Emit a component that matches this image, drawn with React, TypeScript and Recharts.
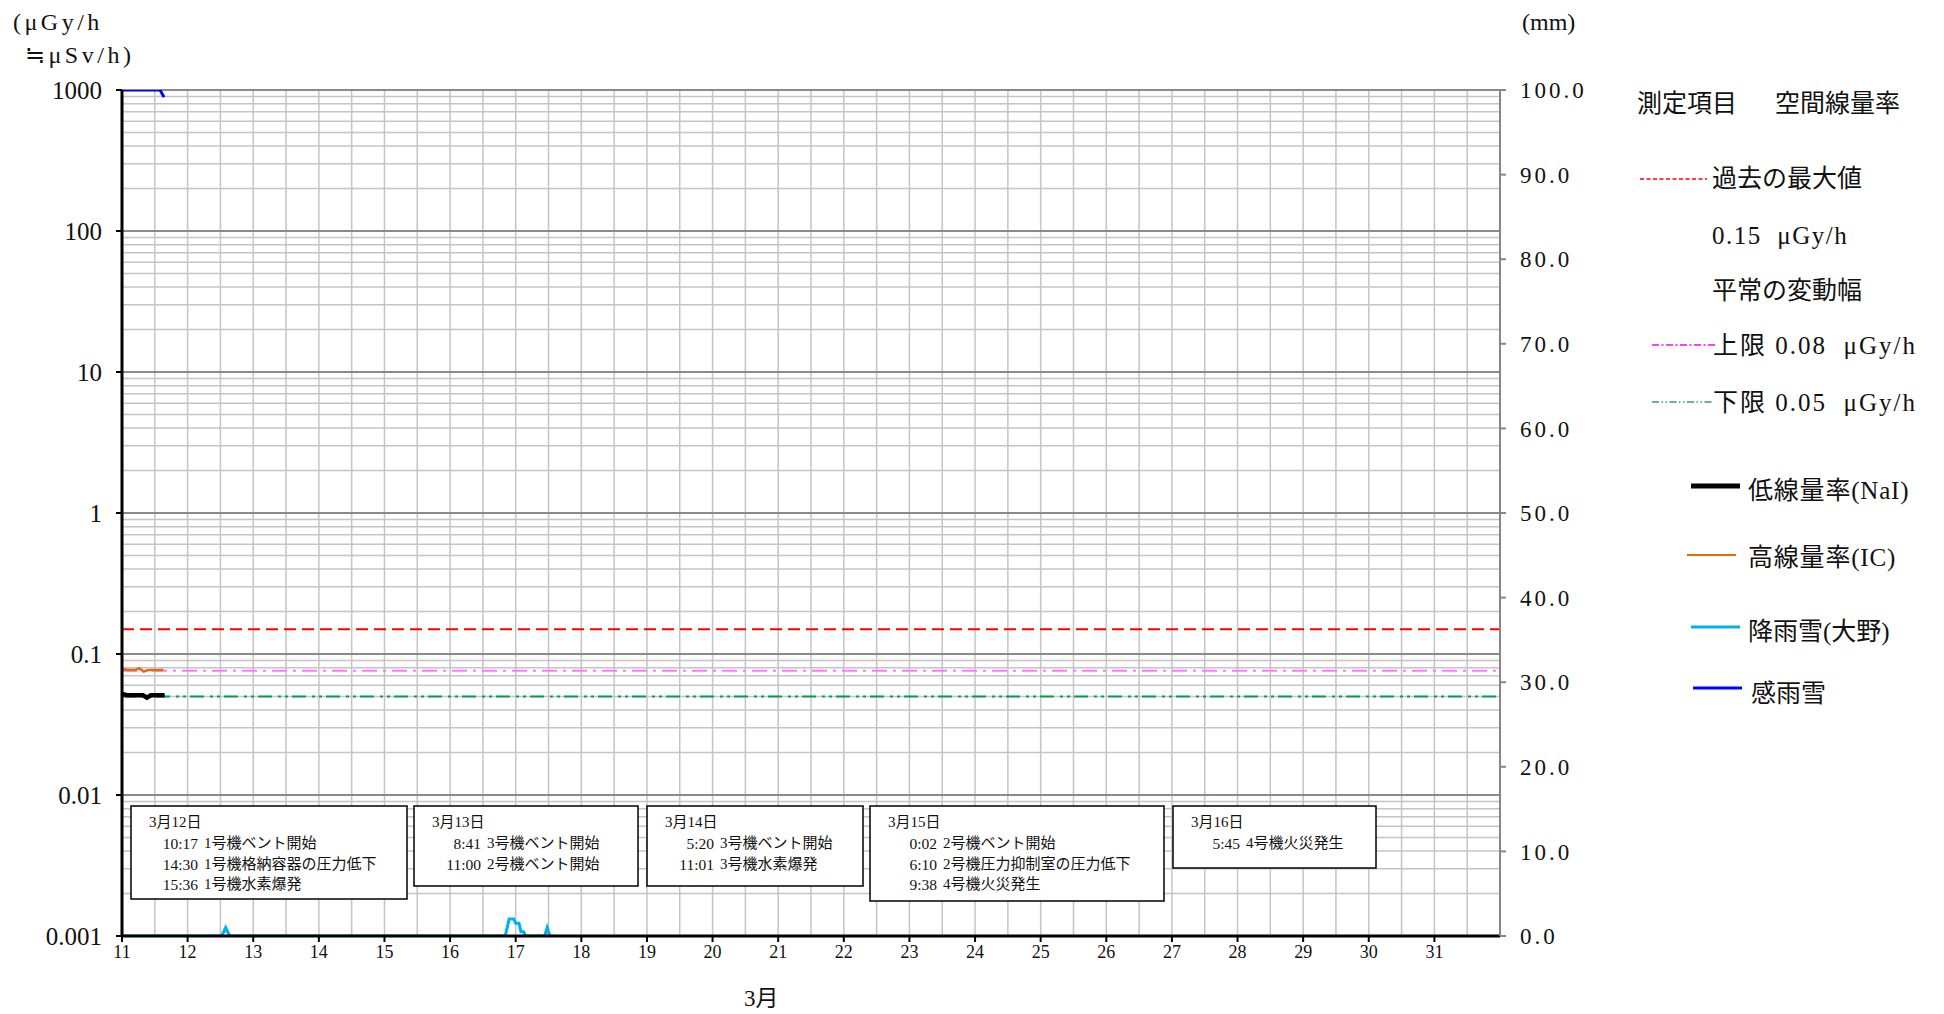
import React from 'react'
import {
  ComposedChart,
  Line,
  XAxis,
  YAxis,
  CartesianGrid,
  ReferenceLine,
} from 'recharts'

// x: day of March, left y: µGy/h (log), right y: mm
const dayTicks = [11, 12, 13, 14, 15, 16, 17, 18, 19, 20, 21, 22, 23, 24, 25, 26, 27, 28, 29, 30, 31]
const doseTicks = [0.001, 0.01, 0.1, 1, 10, 100, 1000]
const rainTicks = [0, 10, 20, 30, 40, 50, 60, 70, 80, 90, 100]

// 低線量率(NaI)
const naiTimes = [11.0, 11.08, 11.16, 11.24, 11.32, 11.38, 11.44, 11.52, 11.6, 11.65]
const naiValues = [0.052, 0.051, 0.051, 0.051, 0.051, 0.049, 0.051, 0.051, 0.051, 0.051]

// 高線量率(IC)
const icTimes = [11.0, 11.1, 11.2, 11.27, 11.33, 11.4, 11.5, 11.6, 11.63]
const icValues = [0.078, 0.077, 0.077, 0.079, 0.075, 0.077, 0.077, 0.077, 0.077]

// 降雨雪(大野) mm
const rainTimes = [11.0, 12.52, 12.58, 12.64, 16.84, 16.9, 16.97, 17.0, 17.05, 17.08, 17.12, 17.15, 17.44, 17.48, 17.52, 17.58]
const rainValues = [0, 0, 1.0, 0, 0, 2.0, 2.0, 1.5, 1.5, 0.5, 0.5, 0, 0, 1.0, 0, 0]

// 感雨雪
const senseTimes = [11.0, 11.58, 11.64]
const senseValues = [1000, 1000, 890]

const pastMax = 0.15
const normalUpper = 0.076
const normalLower = 0.05

const eventBoxes = [
  { date: '3月12日', events: [['10:17', '1号機ベント開始'], ['14:30', '1号機格納容器の圧力低下'], ['15:36', '1号機水素爆発']] },
  { date: '3月13日', events: [['8:41', '3号機ベント開始'], ['11:00', '2号機ベント開始']] },
  { date: '3月14日', events: [['5:20', '3号機ベント開始'], ['11:01', '3号機水素爆発']] },
  { date: '3月15日', events: [['0:02', '2号機ベント開始'], ['6:10', '2号機圧力抑制室の圧力低下'], ['9:38', '4号機火災発生']] },
  { date: '3月16日', events: [['5:45', '4号機火災発生']] },
]

const boxLayout = [
  { x: 131, w: 276, h: 93 },
  { x: 414, w: 224, h: 80 },
  { x: 647, w: 216, h: 80 },
  { x: 870, w: 294, h: 95 },
  { x: 1173, w: 203, h: 62 },
]

const toSeries = (ts: number[], vs: number[]) => ts.map((t, i) => ({ t, v: vs[i] }))

const decadeLines = doseTicks
const minorLines = doseTicks.slice(0, -1).flatMap((d) => [2, 3, 4, 5, 6, 7, 8, 9].map((m) => m * d))
const halfDayLines = dayTicks.flatMap((d) => [d, d + 0.5]).concat([32])

const FONT = '"Liberation Serif", "Noto Sans CJK JP", serif'

function Overlay() {
  const legendText = { fontFamily: FONT, fontSize: 25, fill: '#111' }
  return (
    <svg
      width={1944}
      height={1014}
      style={{ position: 'absolute', left: 0, top: 0, pointerEvents: 'none' }}
    >
      <text x={13} y={22} dominantBaseline="central" style={{ letterSpacing: 3.5 }} fontFamily={FONT} fontSize={24} fill="#111">
        (μGy/h
      </text>
      <text x={25} y={55} dominantBaseline="central" style={{ letterSpacing: 3.5 }} fontFamily={FONT} fontSize={24} fill="#111">
        ≒μSv/h)
      </text>
      <text x={1522} y={22} dominantBaseline="central" fontFamily={FONT} fontSize={24} fill="#111">
        (mm)
      </text>
      <text x={744} y={998} dominantBaseline="central" fontFamily={FONT} fontSize={23} fill="#111">
        3月
      </text>

      {/* legend */}
      <text x={1637} y={103} dominantBaseline="central" {...legendText}>測定項目</text>
      <text x={1775} y={103} dominantBaseline="central" {...legendText}>空間線量率</text>

      <line x1={1640} x2={1707} y1={179} y2={179} stroke="#ff0000" strokeWidth={1.5} strokeDasharray="4 2.5" />
      <text x={1712} y={178} dominantBaseline="central" {...legendText}>過去の最大値</text>
      <text x={1712} y={235} dominantBaseline="central" {...legendText} style={{ letterSpacing: 1.5, whiteSpace: 'pre' }}>
        {'0.15  μGy/h'}
      </text>
      <text x={1712} y={290} dominantBaseline="central" {...legendText}>平常の変動幅</text>

      <line x1={1652} x2={1716} y1={345} y2={345} stroke="#ff00ff" strokeWidth={1.5} strokeDasharray="7 2.5 2 2.5" />
      <text x={1713} y={345} dominantBaseline="central" {...legendText} style={{ letterSpacing: 2, whiteSpace: 'pre' }}>
        {'上限 0.08  μGy/h'}
      </text>
      <line x1={1652} x2={1713} y1={402} y2={402} stroke="#3a9a66" strokeWidth={1.5} strokeDasharray="7 2.5 1.5 2.5 1.5 2.5" />
      <text x={1713} y={402} dominantBaseline="central" {...legendText} style={{ letterSpacing: 2, whiteSpace: 'pre' }}>
        {'下限 0.05  μGy/h'}
      </text>

      <line x1={1691} x2={1740} y1={486} y2={486} stroke="#000" strokeWidth={5} />
      <text x={1748} y={490} dominantBaseline="central" {...legendText} style={{ letterSpacing: 0.8 }}>低線量率(NaI)</text>
      <line x1={1687} x2={1736} y1={555} y2={555} stroke="#e46c0a" strokeWidth={2} />
      <text x={1748} y={557} dominantBaseline="central" {...legendText} style={{ letterSpacing: 0.8 }}>高線量率(IC)</text>
      <line x1={1691} x2={1740} y1={627} y2={627} stroke="#00b0f0" strokeWidth={3} />
      <text x={1748} y={631} dominantBaseline="central" {...legendText}>降雨雪(大野)</text>
      <line x1={1693} x2={1742} y1={688} y2={688} stroke="#0000ff" strokeWidth={3} />
      <text x={1751} y={693} dominantBaseline="central" {...legendText}>感雨雪</text>

      {/* event notes */}
      {eventBoxes.map((box, i) => {
        const l = boxLayout[i]
        const top = 806
        const rowY = [top + 16, top + 37, top + 58, top + 78]
        return (
          <g key={box.date}>
            <rect x={l.x} y={top} width={l.w} height={l.h} fill="#fff" stroke="#000" strokeWidth={1.5} />
            <text x={l.x + 18} y={rowY[0]} dominantBaseline="central" fontFamily={FONT} fontSize={15} fill="#111">
              {box.date}
            </text>
            {box.events.map(([time, label], j) => (
              <g key={time}>
                <text x={l.x + 67} y={rowY[j + 1]} textAnchor="end" dominantBaseline="central" fontFamily={FONT} fontSize={15.5} fill="#111">
                  {time}
                </text>
                <text x={l.x + 73} y={rowY[j + 1]} dominantBaseline="central" fontFamily={FONT} fontSize={15} fill="#111">
                  {label}
                </text>
              </g>
            ))}
          </g>
        )
      })}
    </svg>
  )
}

export default function App() {
  return (
    <div style={{ position: 'absolute', left: 0, top: 0, width: 1944, height: 1014, background: '#fff' }}>
      <ComposedChart
        width={1944}
        height={1014}
        margin={{ top: 90, right: 344, bottom: 0, left: 0 }}
      >
        <CartesianGrid vertical={false} horizontalValues={minorLines} stroke="#c4c4c4" strokeWidth={1.5} />
        <CartesianGrid horizontal={false} verticalValues={halfDayLines} stroke="#c4c4c4" strokeWidth={1.5} />
        <CartesianGrid vertical={false} horizontalValues={decadeLines} stroke="#8a8a8a" strokeWidth={2} />
        <XAxis
          dataKey="t"
          type="number"
          domain={[11, 32]}
          ticks={dayTicks}
          interval={0}
          allowDataOverflow
          height={78}
          axisLine={{ stroke: '#000', strokeWidth: 3 }}
          tickLine={{ stroke: '#000', strokeWidth: 2 }}
          tickSize={6}
          tickMargin={3}
          tick={{ fontSize: 18, fill: '#111', fontFamily: FONT }}
        />
        <YAxis
          type="number"
          scale="log"
          domain={[0.001, 1000]}
          ticks={doseTicks}
          interval={0}
          allowDataOverflow
          width={122}
          tickFormatter={(v: number) => String(v)}
          axisLine={{ stroke: '#000', strokeWidth: 3 }}
          tickLine={{ stroke: '#000', strokeWidth: 2 }}
          tickSize={6}
          tickMargin={14}
          tick={{ fontSize: 25, fill: '#111', fontFamily: FONT }}
        />
        <YAxis
          yAxisId="right"
          orientation="right"
          type="number"
          domain={[0, 100]}
          ticks={rainTicks}
          interval={0}
          allowDataOverflow
          width={100}
          tickFormatter={(v: number) => v.toFixed(1)}
          axisLine={{ stroke: '#868686', strokeWidth: 2 }}
          tickLine={{ stroke: '#868686', strokeWidth: 2 }}
          tickSize={6}
          tickMargin={14}
          tick={{ fontSize: 23, fill: '#111', fontFamily: FONT, style: { letterSpacing: 3 } }}
        />
        <ReferenceLine y={pastMax} stroke="#ff0000" strokeWidth={2} strokeDasharray="12 6" />
        <ReferenceLine y={normalUpper} stroke="#ff77ff" strokeWidth={2} strokeDasharray="15 6 3 6" />
        <ReferenceLine y={normalLower} stroke="#00a050" strokeWidth={2} strokeDasharray="14 6 3 4 3 4" />
        <Line
          data={toSeries(rainTimes, rainValues)}
          yAxisId="right"
          dataKey="v"
          type="linear"
          stroke="#00b0f0"
          strokeWidth={3}
          dot={false}
          isAnimationActive={false}
        />
        <Line
          data={toSeries(icTimes, icValues)}
          dataKey="v"
          type="linear"
          stroke="#e46c0a"
          strokeWidth={2.5}
          dot={false}
          isAnimationActive={false}
        />
        <Line
          data={toSeries(naiTimes, naiValues)}
          dataKey="v"
          type="linear"
          stroke="#000"
          strokeWidth={4.5}
          dot={false}
          isAnimationActive={false}
        />
        <Line
          data={toSeries(senseTimes, senseValues)}
          dataKey="v"
          type="linear"
          stroke="#0000ff"
          strokeWidth={3}
          dot={false}
          isAnimationActive={false}
        />
      </ComposedChart>
      <Overlay />
    </div>
  )
}
